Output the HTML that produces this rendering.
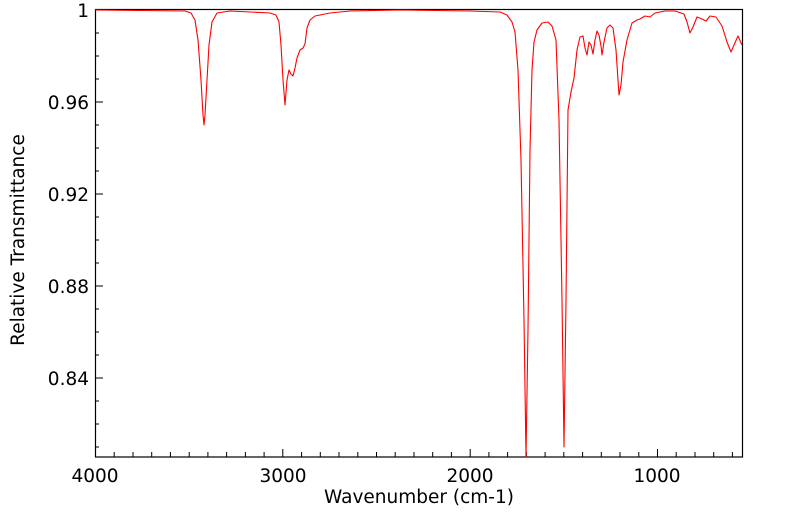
<!DOCTYPE html>
<html><head><style>body{margin:0;background:#fff}svg text{font-family:"DejaVu Sans","Liberation Sans",sans-serif;fill:#000}</style></head>
<body>
<svg width="799" height="516" viewBox="0 0 799 516" xmlns="http://www.w3.org/2000/svg">
<rect x="95.5" y="9.5" width="647" height="447.5" fill="none" stroke="#000" stroke-width="1.2"/>
<g stroke="#000" stroke-width="1">
<path d="M95 10h8M95 33h4M95 56h4M95 79h4M95 102h8M95 125h4M95 148h4M95 171h4M95 194h8M95 217h4M95 240h4M95 263h4M95 286h8M95 309h4M95 332h4M95 355h4M95 378h8M95 401h4M95 424h4M95 447h4"/>
<path d="M95.5 457v-8M114.2 457v-5M133 457v-5M151.7 457v-5M170.4 457v-5M189.2 457v-5M207.9 457v-5M226.6 457v-5M245.4 457v-5M264.1 457v-5M282.8 457v-8M301.6 457v-5M320.3 457v-5M339 457v-5M357.8 457v-5M376.5 457v-5M395.2 457v-5M414 457v-5M432.7 457v-5M451.4 457v-5M470.2 457v-8M488.9 457v-5M507.6 457v-5M526.4 457v-5M545.1 457v-5M563.8 457v-5M582.6 457v-5M601.3 457v-5M620 457v-5M638.8 457v-5M657.5 457v-8M676.2 457v-5M695 457v-5M713.7 457v-5M732.4 457v-5"/>
</g>
<g font-size="18.5" text-anchor="end">
<text x="89" y="17">1</text><text x="89" y="109">0.96</text><text x="89" y="201">0.92</text><text x="89" y="293">0.88</text><text x="89" y="385">0.84</text>
</g>
<g font-size="18.5" text-anchor="middle">
<text x="95" y="482">4000</text><text x="283" y="482">3000</text><text x="470" y="482">2000</text><text x="657" y="482">1000</text>
<text x="419" y="503">Wavenumber (cm-1)</text>
<text transform="translate(24,240) rotate(-90)">Relative Transmittance</text>
</g>
<polyline fill="none" stroke="#f00" stroke-width="1.1" stroke-linejoin="round" points="95,10 140,10.5 185,11 191,13 195,20 198,40 201,80 203,115 204,125 205,115 207,80 209,45 212,22 217,13 230,11 250,12 270,13 276,15 279,22 281,45 283,80 285,105 287,80 289,70 291,74 293,76 295,68 297,58 300,50 303,48 305,44 307,28 310,20 315,16 330,13 350,11 400,10 470,11 500,12 507,15 512,22 515,32 518,70 521,160 524,320 526,457 528,330 530,150 532,70 534,42 537,30 542,23 548,22 552,26 556,40 559,120 562,300 564,447 566,300 568,110 571,92 574,78 577,50 580,37 583,36 585,48 587,55 589,42 591,45 593,54 595,40 597,31 599,35 601,46 602,55 604,42 607,28 610,25 613,28 616,50 619,95 621,85 623,62 627,40 632,23 637,20 640,19 645,16 650,17 655,13 665,11 675,11 684,14 687,22 690,33 693,27 697,17 702,19 706,21 710,16 716,17 722,26 727,42 731,52 734,45 738,36 742,45"/>
</svg>
</body></html>
